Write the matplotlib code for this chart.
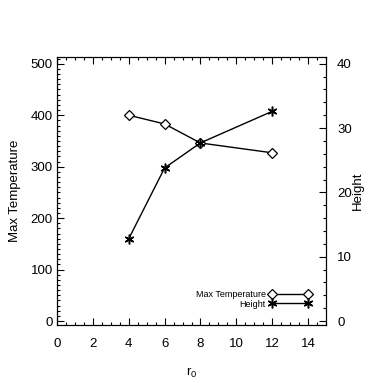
import numpy as np
import matplotlib
matplotlib.use('Agg')
import matplotlib.pyplot as plt
from matplotlib.ticker import MultipleLocator

plt.rcParams['font.family'] = ['Liberation Sans', 'DejaVu Sans']
plt.rcParams['mathtext.default'] = 'regular'

# values
r0 = [4, 6, 8, 12]
max_temp = [400, 383, 346, 327]
height = [12.8, 23.8, 27.7, 32.6]


def style_ticks(ax):
    ax.tick_params(which='both', direction='in', width=0.8, labelsize=9.5)
    ax.tick_params(which='major', length=5)
    ax.tick_params(which='minor', length=2.5)


def main():
    fig = plt.figure(figsize=(3.83, 3.83), dpi=100)
    ax = fig.add_axes([0.149, 0.151, 0.702, 0.700])
    ax2 = ax.twinx()

    l1, = ax.plot(r0, max_temp, 'k-', lw=1, marker='D', ms=4.8,
                  mfc='white', mec='k', mew=0.9, label='Max Temperature')
    l2, = ax2.plot(r0, height, 'k-', lw=1, marker=(6, 2, 0), ms=7,
                   mec='k', mew=1.1, label='Height')

    ax.set_xlim(0, 15)
    ax.set_ylim(-8, 513)
    ax2.set_ylim(-8 * 40 / 500., 513 * 40 / 500.)

    ax.xaxis.set_major_locator(MultipleLocator(2))
    ax.xaxis.set_minor_locator(MultipleLocator(0.5))
    ax.yaxis.set_major_locator(MultipleLocator(100))
    ax.yaxis.set_minor_locator(MultipleLocator(10))
    ax2.yaxis.set_major_locator(MultipleLocator(10))
    ax2.yaxis.set_minor_locator(MultipleLocator(2))

    style_ticks(ax)
    style_ticks(ax2)
    ax.tick_params(which='both', top=True, right=False)
    ax.tick_params(axis='x', pad=9)
    ax.tick_params(axis='y', pad=3)
    ax2.tick_params(axis='y', pad=8)

    for a in (ax, ax2):
        for s in a.spines.values():
            s.set_linewidth(0.8)

    ax.set_xlabel('r$_0$', fontsize=9.5, labelpad=12)
    ax.set_ylabel('Max Temperature', fontsize=9.5, labelpad=7)
    ax2.set_ylabel('Height', fontsize=9.5, labelpad=0)

    leg = ax.legend([l1, l2], ['Max Temperature', 'Height'], loc='lower right',
                    bbox_to_anchor=(0.96, 0.045), frameon=False, fontsize=6.5,
                    markerfirst=False, numpoints=2, handlelength=4.6,
                    handletextpad=0.4, labelspacing=0.05, borderpad=0.0)

    fig.savefig('out.png', dpi=100)


if __name__ == "__main__":
    main()
